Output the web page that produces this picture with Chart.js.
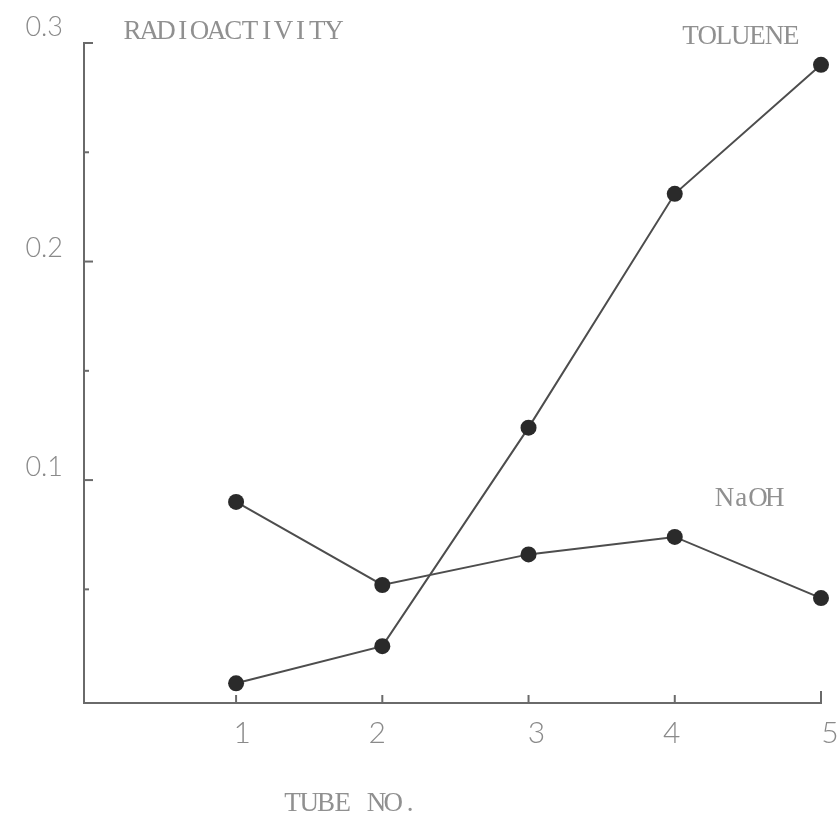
<!DOCTYPE html>
<html>
<head>
<meta charset="utf-8">
<script src="https://cdn.jsdelivr.net/npm/chart.js@4.4.1/dist/chart.umd.min.js"></script>
<style>
  html, body { margin: 0; padding: 0; background: #fff; }
  canvas { display: block; }
</style>
</head>
<body>
<canvas id="radioChart" width="840" height="816"></canvas>
<script>
// tube numbers and measured radioactivity
const tubes = [1, 2, 3, 4, 5];
const toluene = [0.007, 0.024, 0.124, 0.231, 0.290];
const naoh = [0.090, 0.052, 0.066, 0.074, 0.046];

// axis tick values
const xTicks = [1, 2, 3, 4, 5];
const yTicks = [0.05, 0.1, 0.15, 0.2, 0.25, 0.3];
const yLabels = ["0.1", "0.2", "0.3"];

const typeFont = "27px 'Liberation Serif', 'DejaVu Serif', serif";
const typePitch = 16.8;
const digitFont = "300 30px Lato, 'DejaVu Sans', sans-serif";
const inkGray = "#8a8a8a";

// typewriter: every character gets the same cell width
function typeText(ctx, text, left, midY) {
  ctx.font = typeFont;
  ctx.textAlign = "center";
  ctx.textBaseline = "middle";
  [...text].forEach((ch, i) => {
    ctx.fillText(ch, left + typePitch * (i + 0.5), midY);
  });
}

const decorations = {
  id: "decorations",
  beforeDatasetsDraw(chart) {
    const { ctx, scales: { x, y } } = chart;
    ctx.save();
    ctx.strokeStyle = "#6a6a6a";
    ctx.lineWidth = 2;
    // y ticks point into the plot
    yTicks.forEach((v, i) => {
      const py = y.getPixelForValue(v);
      const len = (i % 2 === 1) ? 9 : 5;
      ctx.beginPath();
      ctx.moveTo(x.left, py);
      ctx.lineTo(x.left + len, py);
      ctx.stroke();
    });
    // x ticks point up
    xTicks.forEach(v => {
      const px = x.getPixelForValue(v);
      ctx.beginPath();
      ctx.moveTo(px, y.bottom);
      ctx.lineTo(px, y.bottom - (v === 5 ? 12 : 8));
      ctx.stroke();
    });
    ctx.restore();
  },
  afterDraw(chart) {
    const { ctx, scales: { x, y } } = chart;
    ctx.save();
    ctx.fillStyle = inkGray;

    // tick labels
    ctx.font = digitFont;
    ctx.textAlign = "center";
    ctx.textBaseline = "middle";
    const xShift = [6, -5, 8, -3, 9];
    xTicks.forEach((v, i) => {
      ctx.fillText(String(v), x.getPixelForValue(v) + xShift[i], y.bottom + 30);
    });
    ctx.font = "300 27px Lato, 'DejaVu Sans', sans-serif";
    ctx.textAlign = "right";
    yLabels.forEach(t => {
      const v = parseFloat(t);
      const shift = v === 0.3 ? -16 : -13;
      ctx.fillText(t, x.left - 21, y.getPixelForValue(v) + shift);
    });

    // typed annotations
    ctx.fillStyle = "#909090";
    typeText(ctx, "RADIOACTIVITY", 124, 32);
    typeText(ctx, "TOLUENE", 682, 37);
    typeText(ctx, "NaOH", 716, 499);
    typeText(ctx, "TUBE NO.", 284, 804);
    ctx.restore();
  }
};

const pairs = vals => tubes.map((t, i) => ({ x: t, y: vals[i] }));

const chart = new Chart(document.getElementById("radioChart").getContext("2d"), {
  type: "line",
  data: {
    datasets: [
      {
        label: "TOLUENE",
        data: pairs(toluene),
        borderColor: "#4d4d4d",
        borderWidth: 2,
        pointRadius: 8,
        pointBackgroundColor: "#2a2a2a",
        pointBorderWidth: 0,
        tension: 0,
        clip: false
      },
      {
        label: "NaOH",
        data: pairs(naoh),
        borderColor: "#4d4d4d",
        borderWidth: 2,
        pointRadius: 8,
        pointBackgroundColor: "#2a2a2a",
        pointBorderWidth: 0,
        tension: 0,
        clip: false
      }
    ]
  },
  options: {
    responsive: false,
    animation: false,
    layout: {
      autoPadding: false,
      padding: { left: 84, right: 19, top: 43, bottom: 113 }
    },
    plugins: {
      legend: { display: false },
      tooltip: { enabled: false }
    },
    scales: {
      x: {
        type: "linear",
        min: -0.04,
        max: 5,
        ticks: { display: false },
        grid: { display: false, drawTicks: false },
        border: { display: true, color: "#6a6a6a", width: 2 }
      },
      y: {
        min: -0.002,
        max: 0.3,
        ticks: { display: false },
        grid: { display: false, drawTicks: false },
        border: { display: true, color: "#6a6a6a", width: 2 }
      }
    }
  },
  plugins: [decorations]
});
</script>
</body>
</html>
